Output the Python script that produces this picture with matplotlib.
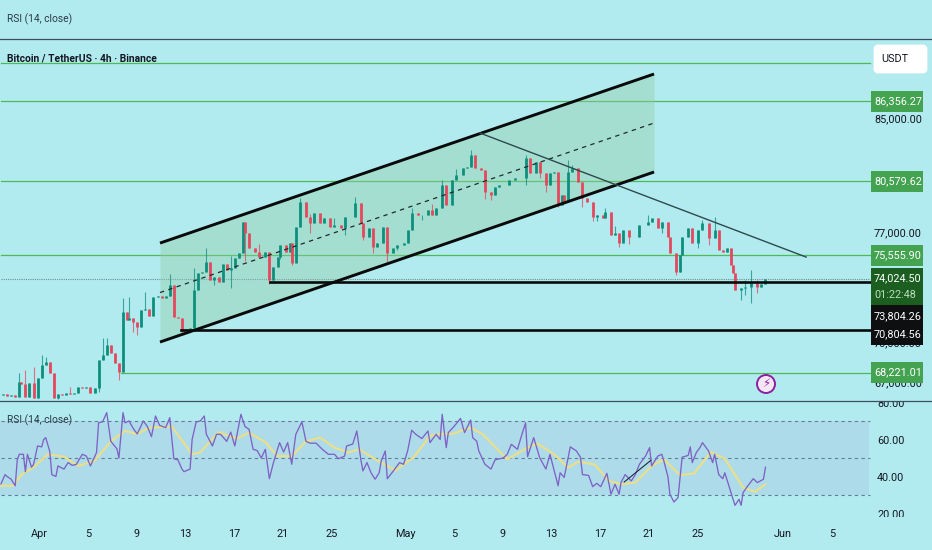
import matplotlib
matplotlib.use("Agg")
import matplotlib.pyplot as plt
from matplotlib.patches import Rectangle, FancyBboxPatch, Circle
from matplotlib.lines import Line2D
from matplotlib.transforms import IdentityTransform, blended_transform_factory
import numpy as np

plt.rcParams['font.family'] = ['Roboto', 'DejaVu Sans']

bar_no = [1,3,5,7,9,10,12,14,16,18,20,22,24,26,28,30,32,34,36,38,40,42,44,46,48,50,52,54,56,58,
          60,62,63,65,67,69,71,73,75,77,79,81,83,85,87,89,91,93,95,97,99,101,103,105,107,109,111,113,115,117,119,
          120,122,125,127,130,132,134,136,137,140,142,143,145,147,150,152,154,157,159,162,164,167,169,172,174,177,178,
          181,183,185,188,190,193,195,198,200,202,205,207,210,212,214,217,219,222,224,227,229,231,233,236,238,241,243,
          245,248,250,253,255,
          258,260,263,265,268,270,272,274,276,277,279,281,284,286,288,291,293,296,297,300,302,304,306,309,313,314,318,
          320,323,325,328,329,332,334,335,338,340,343,345,348,351,353,355,357,359,360,361,364,366,369,372,374,376]
close = [66988,66872,66930,66815,67688,67571,66815,67630,66757,67922,68692,68871,68217,66757,66988,66930,67046,
         66988,67046,67396,67338,67396,67046,67338,68990,69289,69891,69409,68811,68277,
         71917,71421,71545,71297,70989,72042,72104,71668,72857,72920,72794,72920,73618,71607,71545,70805,70866,70928,
         73300,74387,74451,75098,73937,74129,73809,74969,74580,74709,75360,75687,77749,
         77011,76016,75752,75425,75752,73937,74774,75425,76214,75752,76346,75033,77413,79110,78086,77682,78358,77682,
         78019,77413,77547,77346,78086,78086,79041,77682,76744,
         77346,76082,76346,77413,75687,76016,76214,76346,77211,78358,78222,78222,78562,78222,78698,80284,78904,80633,
         80983,81477,81548,82400,81477,81335,79799,79591,80145,
         80284,80284,80633,80773,80773,
         82186,81124,81902,81124,80284,81124,81194,78904,79591,79110,81194,81477,80493,79384,79110,78086,78222,78019,
         78426,76877,77011,76346,77211,76744,76744,77547,77749,
         78019,77346,77749,76744,75687,74451,75556,76744,77346,76346,77211,77682,76677,77211,75884,75752,76016,74904,
         74387,73300,73427,73491,73745,73491,73682,74024]
first_open = 66930

# the wicks that stand out
high_bar = [9,12,16,20,22,50,52,60,63,71,95,101,147,174,202,217,231,258,279,281,297,345,351,369,
            24,34,44,75,83,113,127,152,164,190,212,224,238,265,288,302,318,340,361,366,372]
high_val = [68217,68395,68573,69289,69170,70316,70316,72794,72857,73173,74709,76016,79384,79453,78698,80633,82758,
            82400,82044,81689,78698,77884,78086,74580,
            67500,67400,67250,71800,74300,75500,76300,78300,78000,76800,79000,81400,80200,81800,79400,77500,78200,
            77300,74000,73950,73950]
low_bar = [58,67,89,105,113,132,143,178,183,190,241,258,268,274,286,291,304,332,364,366,369,
           28,48,65,95,120,137,152,169,195,207,227,238,250,265,293,309,325,343,348,372]
low_val = [67805,70499,70499,73618,73427,73682,74904,76544,75687,75098,79247,80284,79799,78767,78767,77816,76082,
           74258,72668,72983,72480,
           66700,67100,70700,71400,75200,75300,77000,76900,75900,77900,81000,79300,80500,80800,77800,76300,77000,
           76000,76200,73100]

# drawings on the price pane
channel_bar = [78.2, 321.2]
channel_top = [76346, 88388]
channel_mid = [73142, 84712]
channel_bot = [70073, 81194]
trend_bar = [235.6, 396]
trend_val = [83981, 75425]
support_top = 73804.26
support_top_from = 132.3
support_low = 70804.56
support_low_from = 88.5
levels = [89240, 86356.27, 80579.62, 75555.90]
level_68 = 68221.01
level_68_from = 59
last_price = 74024.50

# RSI pane
rsi_bar = [0,2,3,5,7,8,9,11,12,13,15,16,18,20,21,22,24,25,27,28,31,33,35,37,40,42,44,47,48,50,52,54,57,58,60,61,63,
           65,67,70,72,74,76,78,81,83,85,87,89,90,93,94,96,98,100,101,104,106,108,111,113,115,118,120,122,124,126,128,
           130,132,134,137,139,141,143,145,148,150,152,
           155,158,161,164,166,169,170,173,175,177,178,180,182,184,186,187,189,190,193,196,198,200,202,204,207,210,211,
           214,216,217,219,220,223,226,228,231,232,234,235,238,241,243,247,249,251,254,256,258,259,262,265,268,270,274,
           275,277,280,283,285,286,289,291,293,295,298,
           300,302,304,305,307,310,312,314,317,319,320,323,325,326,328,329,331,333,335,338,339,340,342,344,345,348,350,
           351,353,355,356,358,361,363,364,365,367,370,372,375,376]
rsi_val = [36,41,40,38.5,35,49,52,52,42.5,52,45,46.5,56.5,56,60,61,53.5,41,40,45.7,44,47.5,46,46.5,52,51,45.7,53,69,
           69.6,74.5,59,55,50,74.5,69,70,66,63,70,67,61.5,72.7,67.6,66.4,71.8,49.6,49,44,42.6,44,60,69.5,70,72.7,62.8,
           56.5,62.8,62.8,59,64,56.5,73.6,67,65.5,54.7,54,50,54.7,38.8,47.5,58.3,53.2,58.3,46.6,62.8,69.5,59,58,
           58,54.7,52,52,49.6,51,56.5,57.5,64.6,49,43,47.5,42,38.5,42,48.4,53.8,38.8,43,47.5,46.6,53.8,65,62.8,60.5,
           64.6,58.3,62.8,60,73.6,55.6,63.7,67.3,71.4,63.7,70.5,61,59,53.8,46.6,44,49,50,52,57.4,54.7,62,69,50.7,61,
           50,44,52,35,42,39.5,56,53.8,50.4,41,40.6,34.5,36.3,34.5,41.7,
           30.4,35.8,30.4,37,41,37.6,41,46.6,51,55.6,45.7,51,52,48.4,40,30.4,26.2,28.6,50.4,51.4,56,47.5,53,56,58.3,
           53.8,47.5,52,41,38.8,42,35,24.4,27.7,24.4,31.3,34.5,38.8,36.7,38.5,45]
ma_bar = [0,6,10,16,23,31,38,46,54,61,67,73,84,94,98,107,116,122,130,136,143,150,
          157,164,171,176,187,194,203,211,216,222,231,237,249,259,264,272,279,284,292,299,
          305,312,320,326,334,341,349,356,365,371,376]
ma_val = [35,35,41,45,52,50.7,45.7,48.4,59,64.6,63,66.4,67,52,53,64,60.5,63.7,58.6,51,51,59,
          61,55.6,53,54.7,47.5,43.3,50.4,62,63,63,66.4,62.8,49.3,55.6,57.7,52,44.8,48,46.5,37.6,
          35.8,36.7,45.7,49.3,40.7,41.7,53.2,49.6,34,31.8,35.8]
rsi_line_bar = [306.5, 319.6]
rsi_line_val = [37, 48.7]

# axis text
price_ticks = [85000, 81000, 77000, 70000, 67630]
price_tick_labels = ["85,000.00", "81,000.00", "77,000.00", "70,000.00", "67,000.00"]
rsi_ticks = [80, 60, 40, 20]
rsi_tick_labels = ["80.00", "60.00", "40.00", "20.00"]
day_ticks = [0, 4, 8, 12, 16, 20, 24, 30, 34, 38, 42, 46, 50, 54, 61, 65]
day_labels = ["Apr", "5", "9", "13", "17", "21", "25", "May", "5", "9", "13", "17", "21", "25", "Jun", "5"]
apr1_bar = 18.7
bars_per_day = 6

BG = "#b2ebef"
UP = "#0e8f7e"
DOWN = "#e4485c"
GREEN = "#4cbb55"
FS = 7.8
FS_HEAD = 7.4
W, H = 932, 550

fig = plt.figure(figsize=(W / 100, H / 100), dpi=100, facecolor=BG)


def py(y):
    return H - y


def add_axes_px(top, bottom):
    a = fig.add_axes([0, (H - bottom) / H, 1, (bottom - top) / H])
    a.patch.set_alpha(0)
    a.set_xlim(-0.49, 457.9)
    for s in a.spines.values():
        s.set_visible(False)
    return a


ax = add_axes_px(39, 400)
ax.set_yscale("log")
ax.set_ylim(66642, 91109)
ax.set_xticks([])
ax.set_yticks([])
ax.minorticks_off()

end_bar = 427.5  # right edge of the drawing area

# levels
for lv in levels:
    ax.plot([0, end_bar], [lv, lv], color=GREEN, lw=0.9, zorder=1)
ax.plot([level_68_from, end_bar], [level_68, level_68], color=GREEN, lw=0.9, zorder=1)
ax.plot([0, end_bar], [last_price, last_price], color="#6d8f96", lw=0.8, ls=(0, (1, 1)), zorder=1)

# channel
ax.fill_between(channel_bar, channel_bot, channel_top, color="#8fcba6", alpha=0.4, lw=0, zorder=1)

# candles
opens = np.array([first_open] + close[:-1], dtype=float)
closes = np.array(close, dtype=float)
bars = np.array(bar_no, dtype=float)
colors = [UP if c >= o else DOWN for o, c in zip(opens, closes)]
highs = np.maximum(opens, closes)
lows = np.minimum(opens, closes)
wick_hi = highs.copy()
wick_lo = lows.copy()
for b, v in zip(high_bar, high_val):
    i = bar_no.index(b)
    wick_hi[i] = max(wick_hi[i], v)
for b, v in zip(low_bar, low_val):
    i = bar_no.index(b)
    wick_lo[i] = min(wick_lo[i], v)
ax.vlines(bars, wick_lo, wick_hi, colors=colors, lw=0.8, alpha=0.75, zorder=2)
ax.vlines(bars, lows, highs, colors=colors, lw=2.0, zorder=3)

# channel lines on top
ax.plot(channel_bar, channel_top, color="#0a0a0a", lw=2.1, solid_capstyle="butt", zorder=4)
ax.plot(channel_bar, channel_bot, color="#0a0a0a", lw=2.1, solid_capstyle="butt", zorder=4)
ax.plot(channel_bar, channel_mid, color="#1d2b2b", lw=0.9, ls=(0, (3.5, 3.5)), zorder=4)
ax.plot(trend_bar, trend_val, color="#2d4a4c", lw=1.0, zorder=4)
ax.plot([support_top_from, end_bar], [support_top, support_top], color="#0a0a0a", lw=1.9, zorder=4)
ax.plot([support_low_from, end_bar], [support_low, support_low], color="#0a0a0a", lw=1.9, zorder=4)

# price scale
price_tf = blended_transform_factory(IdentityTransform(), ax.transData)
for p, t in zip(price_ticks, price_tick_labels):
    ax.text(874, p, t, transform=price_tf, ha="left", va="center", fontsize=FS, color="#131722", zorder=1)

# RSI pane
rx = add_axes_px(401, 517)
rx.set_ylim(18.1, 80.8)
rx.set_yticks([])
rx.axhspan(30, 70, xmin=0, xmax=869 / W, color="#aedbea", lw=0, zorder=0)
for lv in [70, 50, 30]:
    rx.plot([0, end_bar], [lv, lv], color="#5d7f98", lw=0.8, ls=(0, (3, 3)), zorder=1)
rx.plot(ma_bar, ma_val, color="#ecdf86", lw=1.5, zorder=2)
rx.plot(rsi_bar, rsi_val, color="#7e62c4", lw=0.95, zorder=3)
rx.plot(rsi_line_bar, rsi_line_val, color="#1f2d3a", lw=0.8, zorder=4)
rsi_tf = blended_transform_factory(IdentityTransform(), rx.transData)
for v, t in zip(rsi_ticks, rsi_tick_labels):
    rx.text(877, v - 0.8, t, transform=rsi_tf, ha="left", va="center", fontsize=FS, color="#131722", clip_on=True)
rx.set_xticks([apr1_bar + bars_per_day * d for d in day_ticks])
rx.set_xticklabels(day_labels, fontsize=FS, color="#131722")
rx.tick_params(axis="x", length=0, pad=8.5)

# separators and header
for y in [39, 401]:
    fig.add_artist(Line2D([0, W], [py(y), py(y)], transform=IdentityTransform(), color="#3c4f60", lw=0.9, zorder=6))
fig.text(7 / W, py(19) / H, "RSI (14, close)", fontsize=FS_HEAD, color="#2a3a48", va="center")
fig.text(7 / W, py(59) / H, "Bitcoin / TetherUS · 4h · Binance", fontsize=FS_HEAD, color="#131722",
         fontweight="bold", va="center", zorder=7)
fig.text(7 / W, py(420) / H, "RSI (14, close)", fontsize=FS_HEAD, color="#2a3a48", va="center", zorder=7)


def box(top, bottom, color, lines):
    fig.add_artist(Rectangle((871, py(bottom)), 52, bottom - top, transform=IdentityTransform(),
                             facecolor=color, edgecolor="none", zorder=8))
    for y, s, c in lines:
        fig.text(874 / W, py(y) / H, s, fontsize=FS, color=c, va="center", ha="left", zorder=9)


box(91, 112, "#43a351", [(101.5, "86,356.27", "white")])
box(171, 192, "#43a351", [(181.5, "80,579.62", "white")])
box(245, 266, "#43a351", [(255.5, "75,555.90", "white")])
box(268, 305, "#1b5e20", [(278, "74,024.50", "white"), (295, "01:22:48", "#b9dcbb")])
box(305, 345, "#0d0f10", [(316, "73,804.26", "white"), (334, "70,804.56", "white")])
box(362, 383, "#43a351", [(372.5, "68,221.01", "white")])

# USDT button
fig.add_artist(FancyBboxPatch((875, py(72)), 51, 26, boxstyle="round,pad=0,rounding_size=3",
                              mutation_aspect=1, transform=IdentityTransform(), facecolor="white",
                              edgecolor="white", lw=2, zorder=8))
fig.text(881 / W, py(59) / H, "USDT", fontsize=FS, color="#131722", va="center", ha="left", zorder=9)

# lightning mark
fig.add_artist(Circle((766, py(384)), 9, transform=IdentityTransform(), facecolor="#f3e6f5",
                      edgecolor="#8e1f9e", lw=1.4, zorder=8))
fig.text(766 / W, py(384) / H, "\u26a1", fontsize=8.5, color="#8e1f9e", ha="center", va="center",
         family="DejaVu Sans", zorder=9)

fig.savefig("out.png", dpi=100, facecolor=BG)
